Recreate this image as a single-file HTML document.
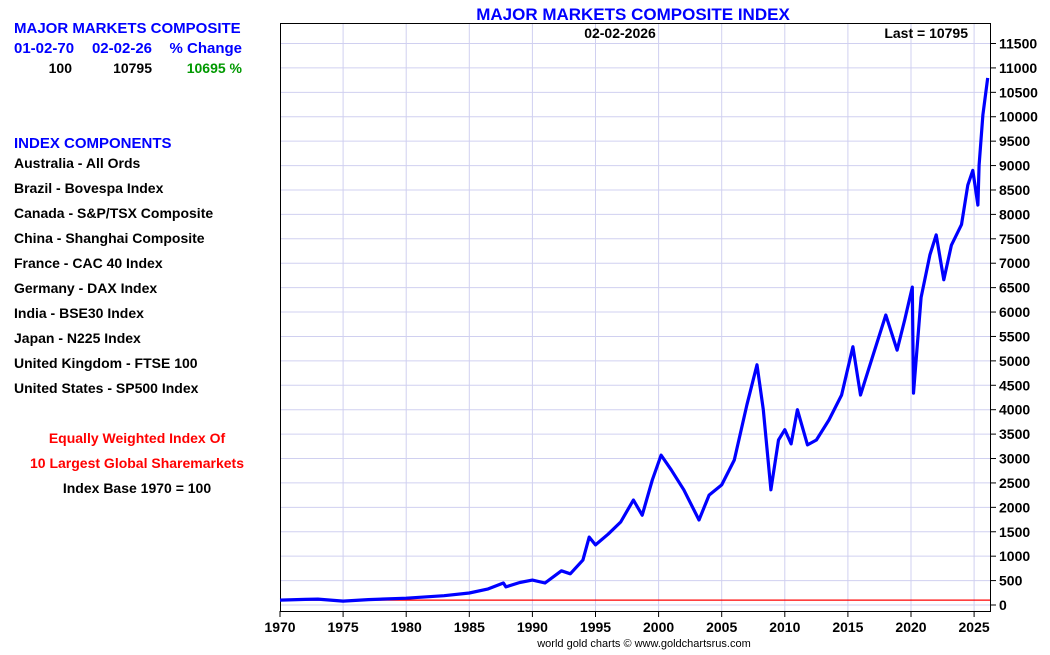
<!DOCTYPE html>
<html><head><meta charset="utf-8"><style>
body{margin:0;background:#fff;font-family:"Liberation Sans",sans-serif;}
svg text{font-family:"Liberation Sans",sans-serif;font-weight:bold;}
</style></head><body>
<svg width="1050" height="650" xmlns="http://www.w3.org/2000/svg">
<g id="grid"></g>
<rect x="280.5" y="23.5" width="710" height="588" fill="none" stroke="#000" stroke-width="1"/>
<g id="axes"></g>
<g id="series"></g>
<text x="633" y="20" text-anchor="middle" font-size="17" fill="#0000ff">MAJOR MARKETS COMPOSITE INDEX</text>
<text x="620" y="38" text-anchor="middle" font-size="14" fill="#000">02-02-2026</text>
<text x="968" y="38" text-anchor="end" font-size="14" fill="#000">Last = 10795</text>
<text x="14" y="33" font-size="15" fill="#0000ff">MAJOR MARKETS COMPOSITE</text>
<text x="14" y="53" font-size="15" fill="#0000ff">01-02-70</text>
<text x="152" y="53" text-anchor="end" font-size="15" fill="#0000ff">02-02-26</text>
<text x="242" y="53" text-anchor="end" font-size="15" fill="#0000ff">% Change</text>
<text x="72" y="73" text-anchor="end" font-size="14" fill="#000">100</text>
<text x="152" y="73" text-anchor="end" font-size="14" fill="#000">10795</text>
<text x="242" y="73" text-anchor="end" font-size="14" fill="#009900">10695 %</text>
<text x="14" y="148" font-size="15" fill="#0000ff">INDEX COMPONENTS</text>
<g id="comps" font-size="14" fill="#000"></g>
<text x="137" y="443" text-anchor="middle" font-size="14" fill="#ff0000">Equally Weighted Index Of</text>
<text x="137" y="468" text-anchor="middle" font-size="14" fill="#ff0000">10 Largest Global Sharemarkets</text>
<text x="137" y="493" text-anchor="middle" font-size="14" fill="#000">Index Base 1970 = 100</text>
<text x="644" y="647" text-anchor="middle" font-size="11" fill="#000" style="font-weight:normal">world gold charts © www.goldchartsrus.com</text>
</svg>
<script>
const years=[1970,1972,1973,1975,1977,1980,1983,1985,1986.5,1987.7,1987.9,1989,1990,1991,1992.3,1993,1994,1994.5,1995,1996,1997,1998,1998.7,1999.5,2000.2,2001,2002,2003.2,2004,2005,2006,2007,2007.8,2008.3,2008.9,2009.5,2010,2010.5,2011,2011.8,2012.5,2013.5,2014.5,2015.4,2016,2017,2018,2018.9,2019.5,2020.1,2020.2,2020.8,2021.5,2022,2022.6,2023.2,2024,2024.5,2024.9,2025.3,2025.4,2025.7,2026.08];
const values=[100,115,120,80,110,140,190,245,330,450,370,460,510,450,700,640,920,1390,1230,1450,1700,2150,1840,2560,3070,2770,2360,1740,2250,2460,2970,4100,4920,4000,2360,3380,3590,3300,4000,3280,3380,3790,4300,5290,4300,5120,5940,5220,5840,6510,4340,6300,7170,7580,6660,7370,7790,8600,8900,8190,9010,10040,10795];
const yTicks=[0,500,1000,1500,2000,2500,3000,3500,4000,4500,5000,5500,6000,6500,7000,7500,8000,8500,9000,9500,10000,10500,11000,11500];
const xTicks=[1970,1975,1980,1985,1990,1995,2000,2005,2010,2015,2020,2025];
const components=["Australia - All Ords","Brazil - Bovespa Index","Canada - S&P/TSX Composite","China - Shanghai Composite","France - CAC 40 Index","Germany - DAX Index","India - BSE30 Index","Japan - N225 Index","United Kingdom - FTSE 100","United States - SP500 Index"];
const baseLine=100;
const X=y=>280+(y-1970)*12.62;
const Y=v=>605-v*(561.5/11500);
const NS="http://www.w3.org/2000/svg";
function mk(t,a,p){const e=document.createElementNS(NS,t);for(const k in a)e.setAttribute(k,a[k]);p.appendChild(e);return e;}
const grid=document.getElementById('grid'),axes=document.getElementById('axes'),ser=document.getElementById('series'),comps=document.getElementById('comps');
yTicks.forEach(v=>{const y=Y(v);
const l=mk('line',{x1:281,x2:990,y1:y,y2:y,stroke:'#d0d0f0','stroke-width':1},grid);


mk('line',{x1:990,x2:996,y1:y,y2:y,stroke:'#000'},axes);
const t=mk('text',{x:999,y:y+5,'font-size':14,fill:'#000'},axes);t.textContent=v;

});
xTicks.forEach(v=>{const x=X(v);
if(v>1970){const l=mk('line',{x1:x,x2:x,y1:24,y2:611,stroke:'#d0d0f0','stroke-width':1},grid);

}
mk('line',{x1:x,x2:x,y1:611,y2:617,stroke:'#000'},axes);
const t=mk('text',{x:x,y:632,'font-size':14,fill:'#000','text-anchor':'middle'},axes);t.textContent=v;

});
const bl=mk('line',{x1:281,x2:990,y1:Y(baseLine),y2:Y(baseLine),stroke:'#ff0000','stroke-width':1.3},ser);


const pts=years.map((y,i)=>X(y).toFixed(1)+','+Y(values[i]).toFixed(1)).join(' ');
const pl=mk('polyline',{points:pts,fill:'none',stroke:'#0000ff','stroke-width':3.2,'stroke-linejoin':'round'},ser);


components.forEach((c,i)=>{const t=mk('text',{x:14,y:168+i*25},comps);t.textContent=c;

});
</script>
</body></html>
